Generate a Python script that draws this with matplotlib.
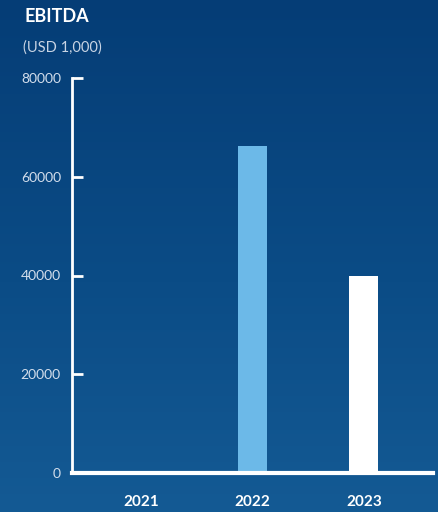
import numpy as np
import matplotlib
matplotlib.use('Agg')
import matplotlib.pyplot as plt

years = ['2021', '2022', '2023']
ebitda = [0, 66200, 40000]
bar_colors = ['#6cb9e8', '#6cb9e8', '#ffffff']
yticks = [0, 20000, 40000, 60000, 80000]

fig = plt.figure(figsize=(4.38, 5.12), dpi=100)

# background gradient (dark blue top, a bit lighter lower down)
bg = fig.add_axes([0, 0, 1, 1])
top = np.array([0x05, 0x3d, 0x76]) / 255
mid = np.array([0x0b, 0x4c, 0x86]) / 255
bottom = np.array([0x14, 0x5a, 0x94]) / 255
t = np.linspace(0, 1, 256)[:, None, None]
grad = np.where(t < 0.55, top * (1 - t / 0.55) + mid * (t / 0.55),
                mid * (1 - (t - 0.55) / 0.45) + bottom * ((t - 0.55) / 0.45))
grad = np.repeat(grad, 2, axis=1)
bg.imshow(grad, aspect='auto', extent=[0, 1, 0, 1])
bg.axis('off')

ax = fig.add_axes([72 / 438, 1 - 473 / 512, 361 / 438, 395 / 512])
ax.patch.set_alpha(0)
x = np.arange(len(years))
ax.bar(x, ebitda, width=0.26, color=bar_colors, zorder=2)
ax.set_xlim(-0.62, 2.62)
ax.set_ylim(0, 80000)
ax.set_yticks(yticks)
ax.set_yticklabels([str(v) for v in yticks])
ax.set_xticks(x)
ax.set_xticklabels(years, fontsize=11, fontweight='bold', color='white', family='Lato')
ax.tick_params(axis='x', length=0, pad=16)
ax.tick_params(axis='y', direction='in', length=8, width=2, color='white',
               labelcolor='#d3deec', labelsize=10, pad=8)
for lbl in ax.get_yticklabels():
    lbl.set_family('Lato')
for s in ['top', 'right']:
    ax.spines[s].set_visible(False)
ax.spines['left'].set_color('white')
ax.spines['left'].set_linewidth(2)
ax.spines['bottom'].set_color('white')
ax.spines['bottom'].set_linewidth(3)

fig.text(24 / 438, 1 - 17 / 512, 'EBITDA', fontsize=13, fontweight='bold',
         color='white', family='Lato', va='center')
fig.text(23 / 438, 1 - 48 / 512, '(USD 1,000)', fontsize=10.5,
         color='#c8d4e4', family='Lato', va='center')

fig.savefig('out.png', dpi=100)
